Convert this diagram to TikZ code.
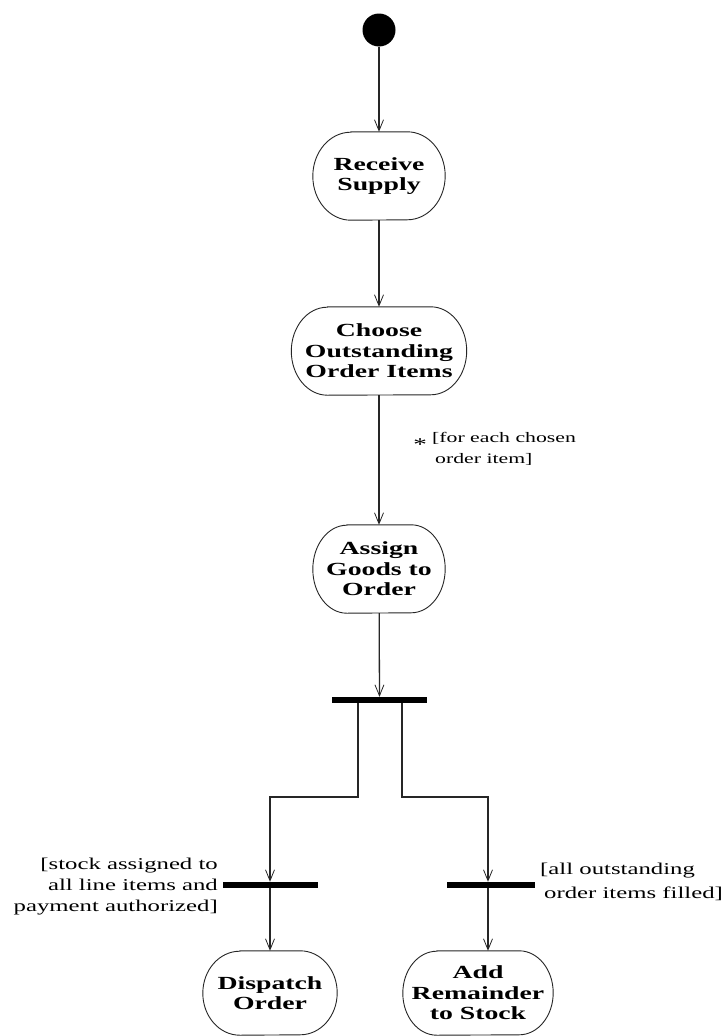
\documentclass[tikz,border=0pt]{standalone}
\usepackage{fontspec}
\newfontfamily\umlfont{Liberation Serif}[FakeStretch=1.5]
\usetikzlibrary{arrows.meta}
\newcommand\actoutline[3]{%
  \draw[actline] ([xshift=#2]#1.north west) -- ([xshift=-#2]#1.north east)
    arc[start angle=90, end angle=-90, x radius=#2, y radius=#3]
    -- ([xshift=#2]#1.south west)
    arc[start angle=270, end angle=90, x radius=#2, y radius=#3] -- cycle;}
\begin{document}
\begin{tikzpicture}[x=1pt,y=-1pt,
  act/.style={inner sep=0pt, align=center,
    font=\umlfont\bfseries\fontsize{18.5}{20.5}\selectfont, minimum height=88pt},
  actline/.style={draw=black!85, line width=0.9pt},
  bar/.style={fill=black, inner sep=0pt, minimum height=6pt},
  flow/.style={draw=black!85, line width=1.3pt, -{Straight Barb[length=11pt,width=9pt,line width=0.8pt]}},
  guard/.style={font=\umlfont\fontsize{15.5}{20.5}\selectfont, inner sep=0pt}]
\useasboundingbox (0,0) rectangle (724,1036);
\fill[white] (0,0) rectangle (724,1036);
% nodes
\node[circle, fill=black, minimum size=33pt, inner sep=0pt] (start) at (379,30) {};
\node[act, minimum width=132pt] (receive) at (379,176) {Receive\\Supply};
\node[act, minimum width=175pt] (choose) at (379,351) {Choose\\Outstanding\\Order Items};
\node[act, minimum width=132pt] (assign) at (379,569) {Assign\\Goods to\\Order};
\node[bar, minimum width=95pt] (fork) at (379.5,700) {};
\node[bar, minimum width=95pt] (joinL) at (270,885) {};
\node[bar, minimum width=88pt] (joinR) at (491,885) {};
\node[act, minimum width=134pt, minimum height=84pt] (dispatch) at (270,993) {Dispatch\\Order};
\node[act, minimum width=150pt, minimum height=84pt] (add) at (478,993) {Add\\Remainder\\to Stock};
% outlines of the activity states
\actoutline{receive}{38pt}{44pt}
\actoutline{choose}{36pt}{44pt}
\actoutline{assign}{34pt}{44pt}
\actoutline{dispatch}{37pt}{42pt}
\actoutline{add}{34pt}{42pt}
% guard labels
\node[guard, font=\umlfont\fontsize{18}{20}\selectfont] (star) at (420,445) {*};
\node[guard, font=\umlfont\fontsize{14.5}{21}\selectfont, anchor=west, align=left] (gfor) at (432,449) {[for each chosen\\\hspace*{3pt}order item]};
\node[guard, font=\umlfont\fontsize{16.5}{21}\selectfont, anchor=east, align=right] (gstock) at (218,887) {[stock assigned to\\all line items and\\payment authorized]};
\node[guard, font=\umlfont\fontsize{16.5}{24}\selectfont, anchor=west, align=left] (gall) at (540,882) {[all outstanding\\\hspace*{4pt}order items filled]};
% bend points
\coordinate (bL1) at (358,797);
\coordinate (bL2) at (270,797);
\coordinate (bR1) at (402,797);
\coordinate (bR2) at (488,797);
% connectors
\draw[flow] (start) -- (receive);
\draw[flow] (receive) -- (choose);
\draw[flow] (choose) -- (assign);
\draw[flow] (assign) -- (fork);
\draw[flow] (fork.south -| bL1) -- (bL1) -- (bL2) -- (joinL.north -| bL2);
\draw[flow] (fork.south -| bR1) -- (bR1) -- (bR2) -- (joinR.north -| bR2);
\draw[flow] (joinL) -- (dispatch);
\draw[flow] (joinR.south -| bR2) -- (add.north -| bR2);
\end{tikzpicture}
\end{document}
